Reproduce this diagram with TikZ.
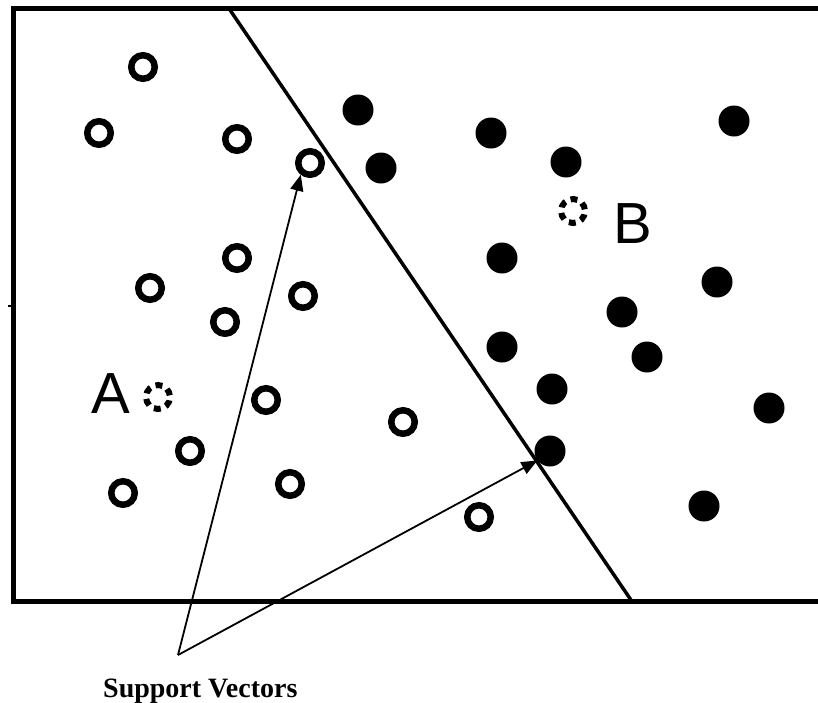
\documentclass[tikz,border=0pt]{standalone}
\usepackage{fontspec}
\setmainfont{Liberation Serif}
\newfontfamily\lettersans{Liberation Sans}
\usetikzlibrary{arrows.meta}
\begin{document}
\begin{tikzpicture}[x=1pt,y=-1pt,
  frame/.style={line width=5pt,line join=miter},
  boundary/.style={line width=3.5pt},
  openpt/.style={circle,draw,line width=6.5pt,minimum size=23.5pt,inner sep=0pt},
  filledpt/.style={circle,fill,minimum size=31pt,inner sep=0pt},
  centroid/.style={circle,draw,line width=6pt,minimum size=24pt,inner sep=0pt,
    dash pattern=on 7pt off 5.57pt,dash phase=10.9pt},
  classlabel/.style={font=\lettersans\fontsize{58}{58}\selectfont,inner sep=0pt,anchor=base},
  pointer/.style={line width=1.8pt,-{Triangle[length=16pt,width=13pt]}}
]
\useasboundingbox (0,0) rectangle (818,702);

% plot frame, open on the right
\draw[frame] (818,8.5) -- (13.5,8.5) -- (13.5,601.5) -- (818,601.5);
\draw[line width=1.5pt] (8,306) -- (12,306);

% separating line
\draw[boundary] (229,8.5) -- (632,601.5);

% class A samples
\node[openpt] (o1)  at (143,67)  {};
\node[openpt] (o2)  at (99,133)  {};
\node[openpt] (o3)  at (237,139) {};
\node[openpt] (o4)  at (310,163) {};
\node[openpt] (o5)  at (237,258) {};
\node[openpt] (o6)  at (150,288) {};
\node[openpt] (o7)  at (303,296) {};
\node[openpt] (o8)  at (225,322) {};
\node[openpt] (o9)  at (266,400) {};
\node[openpt] (o10) at (190,451) {};
\node[openpt] (o11) at (403,422) {};
\node[openpt] (o12) at (123,493) {};
\node[openpt] (o13) at (290,484) {};
\node[openpt] (o14) at (479,517) {};

% class B samples
\node[filledpt] (f1)  at (358,110) {};
\node[filledpt] (f2)  at (491,133) {};
\node[filledpt] (f3)  at (381,168) {};
\node[filledpt] (f4)  at (566,162) {};
\node[filledpt] (f5)  at (734,121) {};
\node[filledpt] (f6)  at (502,258) {};
\node[filledpt] (f7)  at (717,282) {};
\node[filledpt] (f8)  at (622,312) {};
\node[filledpt] (f9)  at (502,347) {};
\node[filledpt] (f10) at (647,357) {};
\node[filledpt] (f11) at (552,389) {};
\node[filledpt] (f12) at (769,408) {};
\node[filledpt] (f13) at (550,451) {};
\node[filledpt] (f14) at (704,506) {};

% class centres and their letters
\node[centroid] (ca) at (158,397) {};
\node[centroid] (cb) at (573,211) {};
\node[classlabel] (la) at (110.5,413) {A};
\node[classlabel] (lb) at (632.5,243) {B};

% caption with pointers to the support vectors
\node[font=\bfseries\fontsize{28}{28}\selectfont,inner sep=0pt,anchor=base west] (cap) at (103,697) {Support Vectors};
\coordinate (fork) at (178,655);
\draw[pointer] (fork) -- (o4.232);
\draw[pointer] (fork) -- (f13.217);
\end{tikzpicture}
\end{document}
